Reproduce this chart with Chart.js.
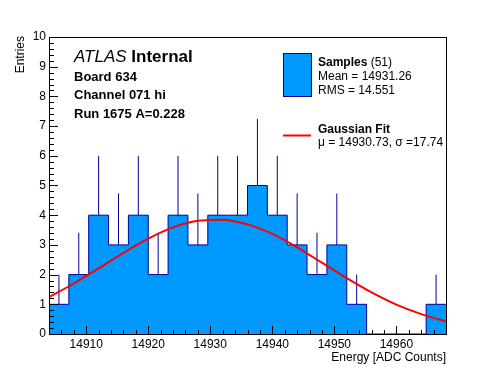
<!DOCTYPE html>
<html>
<head>
<meta charset="utf-8">
<script src="https://cdn.jsdelivr.net/npm/chart.js@4.4.0/dist/chart.umd.min.js"></script>
<style>
  body { margin: 0; background: #fff; }
  canvas { display: block; }
</style>
</head>
<body>
<canvas id="chart" width="496" height="372"></canvas>
<script>
// --- data ---
const binEdges = [14904.0, 14907.2, 14910.4, 14913.6, 14916.8, 14920.0, 14923.2, 14926.4, 14929.6, 14932.8,
                  14936.0, 14939.2, 14942.4, 14945.6, 14948.8, 14952.0, 14955.2, 14958.4, 14961.6, 14964.8, 14968.0];
const binCounts = [1, 2, 4, 3, 4, 2, 4, 3, 4, 4, 5, 4, 3, 2, 3, 1, 0, 0, 0, 1];
// upper end of each error bar (null = no bar)
const errTop = [2, 3.41, 6, 4.73, 6, 3.41, 6, 4.73, 6, 6, 7.24, 6, 4.73, 3.41, 4.73, 2, null, null, null, 2];

// gaussian fit curve
const fitX = [14904, 14908, 14912, 14916, 14920, 14924, 14928, 14932, 14936, 14940, 14944, 14948, 14952, 14956, 14960, 14964, 14968];
const fitY = [1.24, 1.70, 2.21, 2.73, 3.21, 3.59, 3.81, 3.85, 3.69, 3.37, 2.92, 2.40, 1.88, 1.40, 0.99, 0.67, 0.42];

const xTicks = [14910, 14920, 14930, 14940, 14950, 14960];
const yTicks = [0, 1, 2, 3, 4, 5, 6, 7, 8, 9, 10];

const FONT = '"Liberation Sans", Arial, Helvetica, sans-serif';
const FILL = '#0099ff';
const LINE = '#000099';

// histogram outline: points on left bin edges, last point on the right edge
const histPoints = binCounts.map((c, i) => ({ x: binEdges[i], y: c }));
histPoints.push({ x: binEdges[binEdges.length - 1], y: binCounts[binCounts.length - 1] });

// error bars as separate segments
const errPoints = [];
binCounts.forEach((c, i) => {
    if (errTop[i] === null) return;
    const cx = (binEdges[i] + binEdges[i + 1]) / 2;
    errPoints.push({ x: cx, y: c }, { x: cx, y: errTop[i] }, { x: cx, y: null });
});

const fitPoints = fitX.map((x, i) => ({ x: x, y: fitY[i] }));

// frame, inward ticks, titles and text
const rootStyle = {
    id: 'rootStyle',
    afterDatasetsDraw(chart) {
        const ctx = chart.ctx;
        const a = chart.chartArea;
        const xs = chart.scales.x, ys = chart.scales.y;
        ctx.save();
        ctx.strokeStyle = '#000';
        ctx.lineWidth = 1;
        ctx.beginPath();
        // y ticks
        for (let v = 0; v <= 10.001; v += 0.2) {
            const py = Math.round(ys.getPixelForValue(v)) + 0.5;
            const major = Math.abs(v - Math.round(v)) < 0.01;
            ctx.moveTo(a.left, py);
            ctx.lineTo(a.left + (major ? 9 : 5), py);
        }
        // x ticks
        for (let v = 14906; v <= 14968; v += 2) {
            const px = Math.round(xs.getPixelForValue(v)) + 0.5;
            const major = v % 10 === 0;
            ctx.moveTo(px, a.bottom);
            ctx.lineTo(px, a.bottom - (major ? 8 : 4));
        }
        ctx.stroke();
        ctx.strokeRect(Math.round(a.left) + 0.5, Math.round(a.top) + 0.5,
                       Math.round(a.right - a.left), Math.round(a.bottom - a.top));

        // axis titles
        ctx.fillStyle = '#000';
        ctx.font = '12px ' + FONT;
        ctx.textAlign = 'right';
        ctx.textBaseline = 'alphabetic';
        ctx.fillText('Energy [ADC Counts]', a.right, 361);
        ctx.save();
        ctx.translate(24, a.top - 1);
        ctx.rotate(-Math.PI / 2);
        ctx.textAlign = 'right';
        ctx.fillText('Entries', 0, 0);
        ctx.restore();

        // ATLAS label
        ctx.textAlign = 'left';
        ctx.font = 'italic 17px ' + FONT;
        ctx.fillText('ATLAS', 74, 62);
        const w = ctx.measureText('ATLAS ').width;
        ctx.font = 'bold 17px ' + FONT;
        ctx.fillText('Internal', 74 + w, 62);
        ctx.font = 'bold 13px ' + FONT;
        ctx.fillText('Board 634', 74, 81);
        ctx.fillText('Channel 071 hi', 74, 99);
        ctx.fillText('Run 1675 A=0.228', 74, 117.5);

        // legend
        ctx.fillStyle = FILL;
        ctx.fillRect(283, 53, 28, 43);
        ctx.strokeStyle = LINE;
        ctx.strokeRect(283.5, 53.5, 28, 43);
        ctx.fillStyle = '#000';
        ctx.font = 'bold 12px ' + FONT;
        ctx.fillText('Samples', 318, 66);
        const sw = ctx.measureText('Samples').width;
        ctx.font = '12px ' + FONT;
        ctx.fillText(' (51)', 318 + sw, 66);
        ctx.fillText('Mean = 14931.26', 318, 80);
        ctx.fillText('RMS = 14.551', 318, 94);

        ctx.strokeStyle = '#ff0000';
        ctx.lineWidth = 2;
        ctx.beginPath();
        ctx.moveTo(283, 135.5);
        ctx.lineTo(311, 135.5);
        ctx.stroke();
        ctx.font = 'bold 12px ' + FONT;
        ctx.fillText('Gaussian Fit', 318, 133);
        ctx.font = '12px ' + FONT;
        ctx.fillText('\u03bc = 14930.73, \u03c3 =17.74', 318, 146);
        ctx.restore();
    }
};

new Chart(document.getElementById('chart'), {
    type: 'line',
    data: {
        datasets: [
            {
                label: 'Gaussian Fit',
                data: fitPoints,
                borderColor: '#ff0000',
                borderWidth: 2,
                pointRadius: 0,
                cubicInterpolationMode: 'monotone',
                fill: false
            },
            {
                label: 'errors',
                data: errPoints,
                borderColor: LINE,
                borderWidth: 1,
                pointRadius: 0,
                spanGaps: false,
                fill: false
            },
            {
                label: 'Samples',
                data: histPoints,
                stepped: true,
                borderColor: LINE,
                borderWidth: 1,
                backgroundColor: FILL,
                pointRadius: 0,
                fill: 'origin'
            }
        ]
    },
    options: {
        responsive: false,
        animation: false,
        layout: { padding: { top: 37, right: 50, left: 0, bottom: 0 } },
        plugins: { legend: { display: false }, tooltip: { enabled: false } },
        scales: {
            x: {
                type: 'linear',
                min: 14904,
                max: 14968,
                afterBuildTicks: s => { s.ticks = xTicks.map(v => ({ value: v })); },
                afterFit: s => { s.height = 38; },
                grid: { display: false, drawTicks: false },
                border: { display: false },
                ticks: { padding: 3, maxRotation: 0, color: '#000', font: { family: FONT, size: 12 }, callback: v => String(v) }
            },
            y: {
                min: 0,
                max: 10,
                afterBuildTicks: s => { s.ticks = yTicks.map(v => ({ value: v })); },
                afterFit: s => { s.width = 49; },
                grid: { display: false, drawTicks: false },
                border: { display: false },
                ticks: { padding: 3, color: '#000', font: { family: FONT, size: 12 } }
            }
        }
    },
    plugins: [rootStyle]
});
</script>
</body>
</html>
